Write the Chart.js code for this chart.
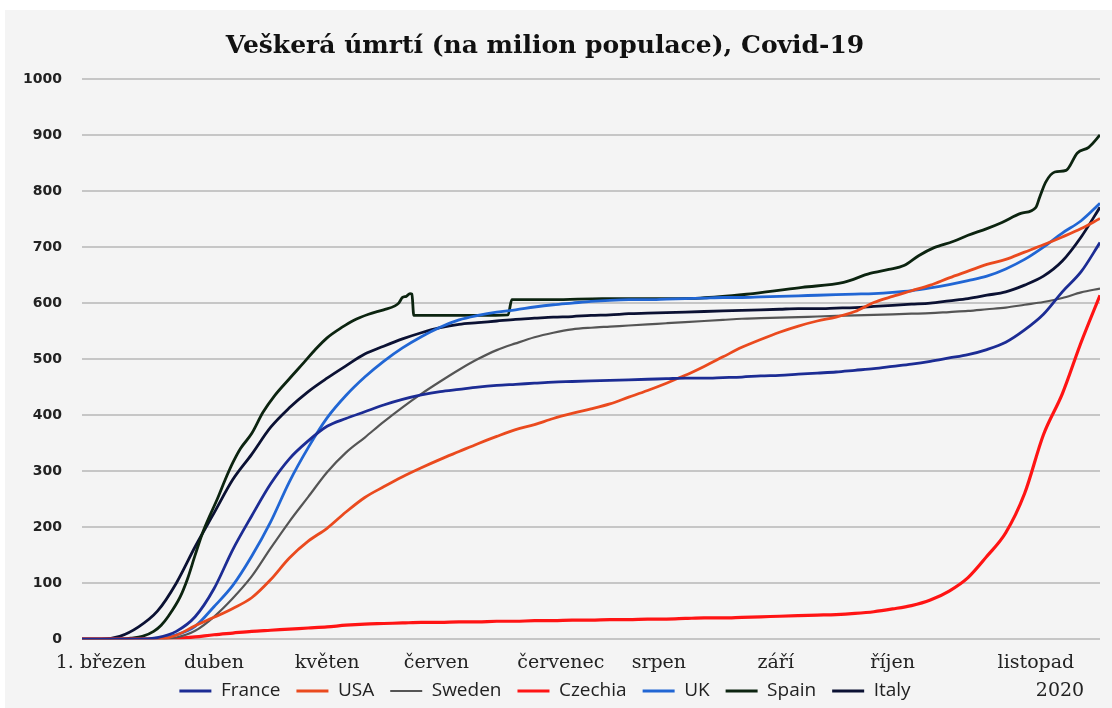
<!DOCTYPE html>
<html><head><meta charset="utf-8">
<script src="https://cdn.jsdelivr.net/npm/chart.js@4.4.1/dist/chart.umd.min.js"></script>
<style>
html,body{margin:0;padding:0;background:#fff;}
#wrap{position:absolute;left:5px;top:10px;width:1107px;height:698px;background:#f4f4f4;}
canvas{display:block;}
</style></head><body>
<div id="wrap"><canvas id="c" width="1107" height="698"></canvas></div>
<script>
const chartTitle = 'Veškerá úmrtí (na milion populace), Covid-19';
const monthDays = [5, 35, 65, 94, 127, 153, 184, 215, 253];
const monthLabels = ['1. březen', 'duben', 'květen', 'červen', 'červenec', 'srpen', 'září', 'říjen', 'listopad'];
const yearLabel = '2020';
const seriesNames = ['France', 'USA', 'Sweden', 'Czechia', 'UK', 'Spain', 'Italy'];

// days counted from 25 Feb 2020
const days = [0,5,10,15,20,25,30,35,40,45,50,55,60,65,70,75,80,85,90,95,100,105,110,115,120,125,130,135,140,145,150,155,160,165,170,175,180,185,190,195,200,205,210,215,220,225,230,235,240,245,250,255,260,265,270];

const france = [0,0,0,0,3,14,40,90,160,220,277,322,354,380,394,406,418,428,436,442,446,450,453,455,457,459,460,461,462,463,464,465,466,466,467,468,470,471,473,475,477,480,483,487,491,496,502,508,517,530,552,580,620,656,708];
const usa = [0,0,0,0,0,7,24,39,55,74,106,145,175,198,227,253,272,290,306,321,335,349,362,374,383,394,403,411,420,432,444,457,471,487,504,521,535,548,559,568,575,585,601,612,622,632,645,657,669,678,691,704,718,733,751];
const sweden = [0,0,0,0,0,3,15,40,73,112,162,210,254,298,333,360,388,414,438,460,481,500,516,528,539,547,553,556,558,560,562,564,566,568,570,572,573,574,575,576,577,578,579,580,581,582,584,586,589,592,597,602,609,619,626];
const czechia = [0,0,0,0,0,1,4,8,11,14,16,18,20,22,25,27,28,29,30,30,31,31,32,32,33,33,34,34,35,35,36,36,37,38,38,39,40,41,42,43,44,46,49,54,60,70,86,110,148,190,260,365,438,530,614];
const uk = [0,0,0,0,2,8,23,58,96,148,209,281,342,395,435,468,496,520,540,557,570,578,584,588,593,597,600,603,605,606,606,607,608,609,610,610,611,612,613,614,615,616,617,619,622,627,633,640,648,661,678,700,725,747,778];
const italy = [0,0,5,22,50,100,165,225,285,330,378,413,442,466,488,509,523,536,547,556,562,565,568,571,573,575,576,578,579,581,582,583,584,585,586,587,588,589,590,590,591,592,594,596,598,600,604,608,614,620,632,648,675,718,771];

// Spain has its own sampling because of the data revision steps
const spainDays = [0,9,13,16,19,21,23,26,28,30,32,34,36,38,40,42,45,48,51,55,59,62,65,69,72,76,80,83,84,85,86,87,87.5,88,95,105,113,114,125,138,150,164,178,191,202,209,214,218,222,226,231,235,240,244,249,253,254,255.6,258,261,264,267,270];
const spain = [0,0,2,5,14,25,42,75,108,150,190,222,252,285,315,340,367,405,434,465,495,518,538,557,569,580,588,595,600,610,612,617,616,578,578,578,579,606,606,608,608,609,617,628,637,653,660,667,685,699,710,721,733,744,760,771,789,816,834,837,868,878,900];

const colors = ['#1c2c94', '#ea4a1e', '#555555', '#ff1414', '#2166d4', '#0c2410', '#0b1133'];
const widths = [2.8, 2.8, 2.2, 3.2, 2.8, 2.8, 2.8];

const seriesValues = [france, usa, sweden, czechia, uk, spain, italy];
const datasets = seriesNames.map((name, k) => {
  const xs = name === 'Spain' ? spainDays : days;
  const vals = seriesValues[k];
  return {
    label: name,
    data: vals.map((v, i) => ({x: xs[i], y: v})),
    borderColor: colors[k],
    backgroundColor: colors[k],
    borderWidth: widths[k],
    pointRadius: 0,
    cubicInterpolationMode: 'monotone',
    fill: false
  };
});

const LEGEND_PAD = 16;
const LEGEND_FONT = 19;
const LEGEND_CENTER = 681; // canvas y of legend row centre

const legendMover = {
  id: 'legendMover',
  afterLayout(chart) {
    const lg = chart.legend;
    const h = lg.height;
    lg.top = LEGEND_CENTER - LEGEND_PAD - LEGEND_FONT / 2;
    lg.bottom = lg.top + h;
  }
};

const yearPlugin = {
  id: 'yearLabel',
  afterDraw(chart) {
    const {ctx, chartArea} = chart;
    ctx.save();
    ctx.font = '19px "DejaVu Serif"';
    ctx.fillStyle = '#222';
    ctx.textAlign = 'center';
    ctx.textBaseline = 'middle';
    ctx.fillText(yearLabel, chartArea.right - 40, LEGEND_CENTER);
    ctx.restore();
  }
};

new Chart(document.getElementById('c'), {
  type: 'line',
  data: { datasets },
  plugins: [legendMover, yearPlugin],
  options: {
    responsive: false,
    animation: false,
    layout: { padding: { left: -15, right: 12, top: 0, bottom: -23 } },
    plugins: {
      title: {
        display: true,
        text: chartTitle,
        color: '#111',
        font: { family: 'DejaVu Serif', size: 25, weight: 'bold' },
        padding: { top: 21, bottom: 18 }
      },
      legend: {
        position: 'bottom',
        labels: {
          usePointStyle: true,
          pointStyle: 'line',
          pointStyleWidth: 32,
          padding: LEGEND_PAD,
          color: '#222',
          font: { family: 'Open Sans', size: LEGEND_FONT }
        }
      },
      tooltip: { enabled: false }
    },
    scales: {
      x: {
        type: 'linear',
        min: 0,
        max: 270,
        afterBuildTicks: (s) => { s.ticks = monthDays.map(v => ({ value: v })); },
        ticks: {
          autoSkip: false,
          maxRotation: 0,
          padding: 12,
          color: '#222',
          font: { family: 'DejaVu Serif', size: 19 },
          callback: (v) => { const i = monthDays.indexOf(v); return i >= 0 ? monthLabels[i] : ''; }
        },
        grid: { display: false, drawTicks: false },
        border: { display: false }
      },
      y: {
        min: 0,
        max: 1000,
        afterFit: (s) => { s.width = 92; },
        ticks: {
          stepSize: 100,
          padding: 20,
          color: '#222',
          font: { family: 'DejaVu Sans', size: 14, weight: 'bold' },
          callback: (v) => String(v)
        },
        grid: { color: '#c6c6c6', lineWidth: 2, drawTicks: false },
        border: { display: false }
      }
    }
  }
});
</script>
</body></html>
